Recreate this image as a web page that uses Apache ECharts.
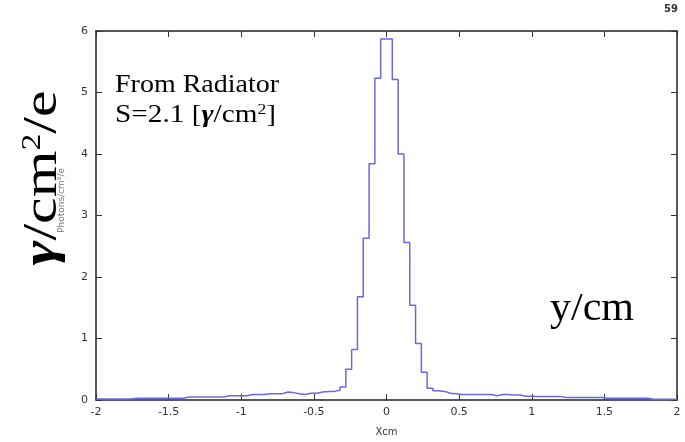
<!DOCTYPE html>
<html>
<head>
<meta charset="utf-8">
<script src="https://cdn.jsdelivr.net/npm/echarts@6/dist/echarts.min.js"></script>
<style>html,body{margin:0;padding:0;background:#fff;}#c{width:685px;height:442px;}</style>
</head>
<body>
<div id="c"></div>
<script>
// Histogram bins: 100 bins of width 0.04 from -2 to 2
var binStart = -2;
var binWidth = 0.04;
var binValues = [
  0.015, 0.015, 0.015, 0.015, 0.015, 0.015,
  0.03, 0.03, 0.03, 0.03, 0.03, 0.03, 0.03, 0.03, 0.03,
  0.05, 0.05, 0.05, 0.05, 0.05, 0.05, 0.05,
  0.07, 0.07, 0.07, 0.07,
  0.09, 0.09, 0.09,
  0.10, 0.10, 0.10,
  0.13, 0.12,
  0.10, 0.09,
  0.11, 0.11,
  0.13, 0.14, 0.14,
  0.16,
  0.21, 0.50, 0.82, 1.68, 2.63, 3.84, 5.23, 5.87,
  5.87, 5.21, 4.00, 2.56, 1.54, 0.92, 0.45, 0.19,
  0.15, 0.14, 0.11, 0.10,
  0.09, 0.09, 0.09, 0.09, 0.09, 0.09,
  0.07,
  0.09, 0.09,
  0.08, 0.08,
  0.06, 0.06,
  0.055, 0.055, 0.055, 0.055, 0.055,
  0.04, 0.04, 0.04, 0.04, 0.04, 0.04, 0.04,
  0.03, 0.03, 0.03, 0.03, 0.03, 0.03, 0.03, 0.03,
  0.012, 0.012, 0.012, 0.012, 0.012
];
var xTicks = [-2, -1.5, -1, -0.5, 0, 0.5, 1, 1.5, 2];
var yTicks = [0, 1, 2, 3, 4, 5, 6];
var xName = 'Xcm';
var yName = 'Photons/cm\u00b2/e';

var stepData = [];
for (var i = 0; i < binValues.length; i++) {
  stepData.push([+(binStart + i * binWidth).toFixed(2), binValues[i]]);
}
stepData.push([+(binStart + binValues.length * binWidth).toFixed(2), binValues[binValues.length - 1]]);

var chart = echarts.init(document.getElementById('c'), null, {renderer: 'canvas'});
var axisLine = {show: true, onZero: false, lineStyle: {color: '#222', width: 1.5}};
var tickStyle = {show: true, inside: true, length: 6, lineStyle: {color: '#333', width: 1}};
var labelStyle = {color: '#333', fontSize: 11, fontFamily: 'DejaVu Sans'};

chart.setOption({
  animation: false,
  backgroundColor: '#fff',
  grid: {left: 96, right: 8, top: 31, bottom: 42},
  xAxis: [{
    type: 'value', min: xTicks[0], max: xTicks[xTicks.length - 1], interval: 0.5, position: 'bottom',
    axisLine: axisLine, axisTick: tickStyle, splitLine: {show: false},
    axisLabel: Object.assign({margin: 7, formatter: function (v) { return String(v); }}, labelStyle),
    name: xName, nameLocation: 'middle', nameGap: 27,
    nameTextStyle: {color: '#333', fontSize: 10, fontFamily: 'DejaVu Sans'}
  }, {
    type: 'value', min: xTicks[0], max: xTicks[xTicks.length - 1], interval: 0.5, position: 'top',
    axisLine: axisLine, axisTick: tickStyle, splitLine: {show: false}, axisLabel: {show: false}
  }],
  yAxis: [{
    type: 'value', min: yTicks[0], max: yTicks[yTicks.length - 1], interval: 1, position: 'left',
    axisLine: axisLine, axisTick: tickStyle, splitLine: {show: false},
    axisLabel: Object.assign({margin: 8}, labelStyle)
  }, {
    type: 'value', min: yTicks[0], max: yTicks[yTicks.length - 1], interval: 1, position: 'right',
    axisLine: axisLine, axisTick: tickStyle, splitLine: {show: false}, axisLabel: {show: false}
  }],
  series: [{
    type: 'line', step: 'end', data: stepData, showSymbol: false,
    lineStyle: {color: '#6868e6', width: 1.5}, xAxisIndex: 0, yAxisIndex: 0
  }],
  graphic: [
    {type: 'text', left: 57, top: 168, rotation: Math.PI / 2, z: 5,
      style: {text: yName, fill: '#777', font: '9px "DejaVu Sans"'}},
    {type: 'text', x: 43, y: 178, rotation: Math.PI / 2, scaleX: 1.25, z: 10,
      style: {
        text: '{g|\u03b3}{n|/cm}{s|2}{n|/e}', fill: '#000', align: 'center', verticalAlign: 'middle',
        rich: {
          g: {fontSize: 48, fontFamily: 'Liberation Serif', fontWeight: 'bold', fontStyle: 'italic', fill: '#000'},
          n: {fontSize: 48, fontFamily: 'Liberation Serif', fill: '#000'},
          s: {fontSize: 27, fontFamily: 'Liberation Serif', fill: '#000', verticalAlign: 'top'}
        }
      }},
    {type: 'text', x: 115, y: 73, scaleX: 1.12, z: 10,
      style: {text: 'From Radiator', fill: '#000', font: '25px "Liberation Serif"'}},
    {type: 'text', x: 115, y: 103, scaleX: 1.17, z: 10,
      style: {
        text: '{n|S=2.1 [}{g|\u03b3}{n|/cm}{s|2}{n|]}', fill: '#000',
        rich: {
          n: {fontSize: 25, fontFamily: 'Liberation Serif', fill: '#000'},
          g: {fontSize: 25, fontFamily: 'Liberation Serif', fontWeight: 'bold', fontStyle: 'italic', fill: '#000'},
          s: {fontSize: 15, fontFamily: 'Liberation Serif', fill: '#000', verticalAlign: 'top'}
        }
      }},
    {type: 'text', x: 550, y: 289, scaleX: 1.05, z: 10,
      style: {text: 'y/cm', fill: '#000', font: '40px "Liberation Serif"'}},
    {type: 'text', x: 664, y: 4, z: 10,
      style: {text: '59', fill: '#333', font: 'bold 10px "DejaVu Sans"'}}
  ]
});
</script>
</body>
</html>
